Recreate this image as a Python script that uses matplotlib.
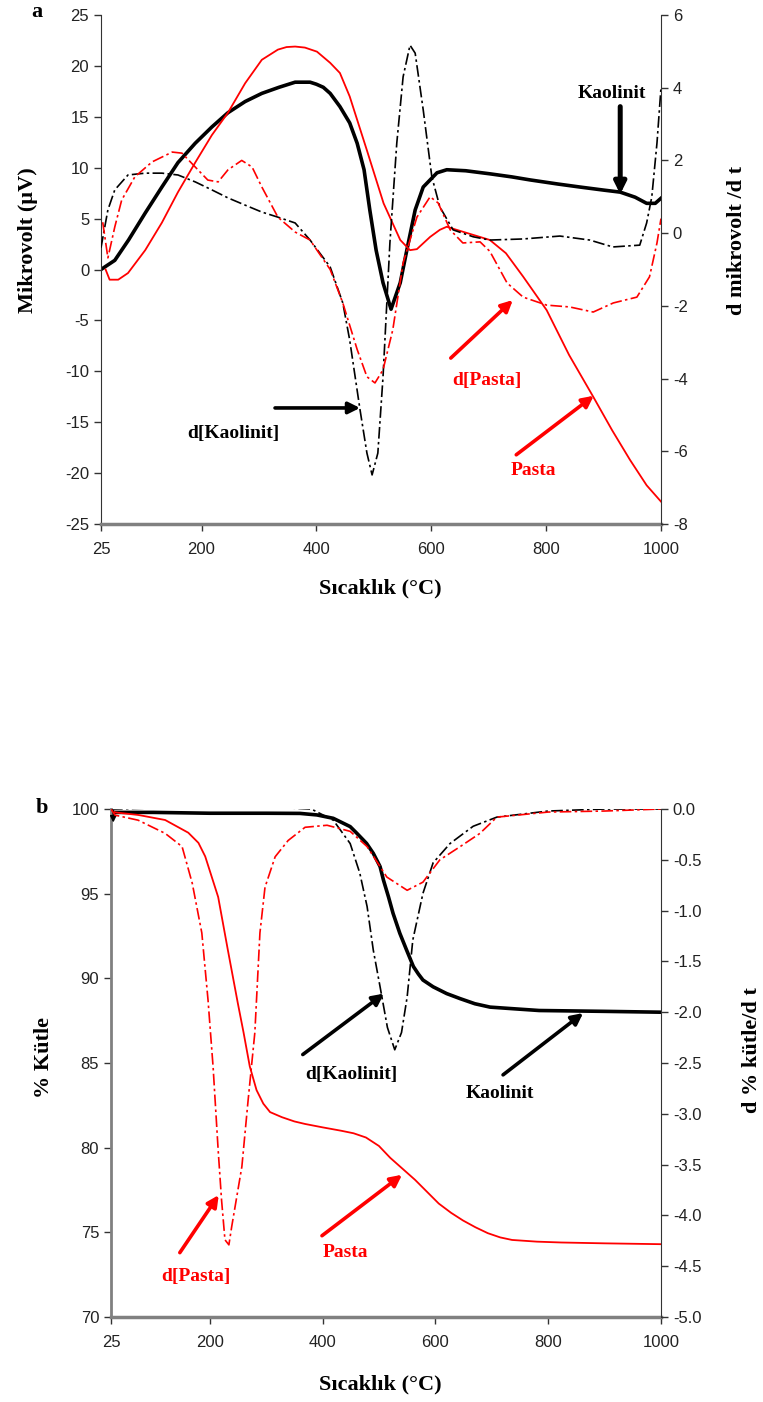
import numpy as np
import matplotlib
matplotlib.use("Agg")
import matplotlib.pyplot as plt

plt.rcParams['axes.unicode_minus'] = False

# ---- panel a : DTA ----
t_kao_a = [25, 49, 73, 102, 131, 159, 189, 218, 246, 276, 305, 335, 363, 389, 400, 412, 424, 441, 458,
           471, 483, 493, 504, 516, 530, 546, 560, 572, 586, 610, 627, 660, 702, 740, 772, 820, 859,
           900, 929, 955, 975, 990, 1000]
v_kao_a = [0.0, 0.9, 2.9, 5.55, 8.1, 10.5, 12.4, 14.0, 15.4, 16.5, 17.3, 17.9, 18.4, 18.4, 18.2, 17.9,
           17.3, 16.0, 14.4, 12.4, 9.8, 5.85, 1.9, -1.3, -3.9, -1.3, 2.6, 5.85, 8.1, 9.5, 9.8, 9.7, 9.4,
           9.1, 8.8, 8.4, 8.1, 7.8, 7.6, 7.1, 6.5, 6.5, 7.0]

t_pasta_a = [33, 40, 55, 72, 102, 131, 159, 189, 218, 246, 276, 305, 333, 348, 363, 380, 401, 424, 441,
             458, 488, 517, 546, 563, 575, 598, 615, 627, 644, 673, 702, 730, 760, 801, 840, 882, 915,
             946, 975, 1000]
v_pasta_a = [0.0, -1.0, -1.0, -0.35, 1.9, 4.6, 7.6, 10.5, 13.2, 15.4, 18.3, 20.6, 21.6, 21.85, 21.9,
             21.8, 21.4, 20.3, 19.3, 17.0, 11.7, 6.5, 2.9, 1.9, 2.0, 3.2, 3.9, 4.2, 3.9, 3.4, 2.9, 1.6,
             -0.7, -4.0, -8.4, -12.5, -15.8, -18.7, -21.2, -22.8]

t_dkao_a = [25, 37, 49, 72, 102, 131, 159, 189, 218, 246, 276, 305, 333, 363, 389, 424, 446, 458, 476,
            488, 497, 507, 516, 528, 540, 551, 563, 572, 586, 601, 615, 638, 673, 702, 760, 824, 876,
            916, 963, 975, 984, 993, 1000]
d_kao_a = [-0.4, 0.64, 1.19, 1.6, 1.65, 1.65, 1.6, 1.41, 1.19, 0.97, 0.77, 0.58, 0.44, 0.28, -0.19,
           -0.93, -1.92, -2.94, -4.86, -6.05, -6.65, -6.05, -3.96, -0.27, 2.48, 4.3, 5.17, 4.95, 3.39,
           1.55, 0.72, 0.09, -0.1, -0.19, -0.16, -0.08, -0.19, -0.38, -0.33, 0.28, 1.0, 2.48, 4.0]

t_dpasta_a = [28, 37, 49, 61, 84, 114, 149, 166, 189, 211, 229, 246, 270, 288, 305, 333, 363, 389, 424,
              446, 471, 488, 502, 516, 533, 551, 575, 598, 612, 633, 655, 685, 702, 732, 760, 801, 841,
              882, 917, 958, 980, 993, 1000]
d_pasta_a = [0.3, -0.68, 0.17, 0.91, 1.55, 1.96, 2.23, 2.2, 1.82, 1.46, 1.41, 1.74, 2.0, 1.82, 1.27,
             0.44, 0.03, -0.19, -1.0, -1.92, -3.2, -3.95, -4.12, -3.76, -2.66, -0.82, 0.44, 1.0, 0.83,
             0.09, -0.27, -0.24, -0.5, -1.37, -1.76, -1.98, -2.03, -2.17, -1.92, -1.76, -1.2, -0.27, 0.4]

# ---- panel b : TG ----
t_kao_b = [25, 100, 200, 300, 360, 390, 419, 449, 461, 478, 490, 502, 508, 517, 525, 537, 549, 561,
           570, 578, 587, 596, 608, 620, 632, 644, 670, 697, 740, 784, 900, 1000]
w_kao_b = [99.8, 99.8, 99.75, 99.75, 99.74, 99.65, 99.45, 98.96, 98.56, 97.97, 97.38, 96.6, 95.8, 94.8,
           93.84, 92.66, 91.67, 90.7, 90.25, 89.9, 89.7, 89.5, 89.3, 89.1, 88.95, 88.8, 88.5, 88.3,
           88.2, 88.1, 88.05, 88.0]

t_dkao_b = [25, 100, 200, 300, 380, 419, 449, 466, 479, 490, 502, 515, 528, 540, 550, 560, 578, 596,
            626, 667, 709, 800, 900, 1000]
d_kao_b = [0.0, 0.01, 0.03, 0.02, 0.0, -0.11, -0.34, -0.63, -0.96, -1.39, -1.75, -2.15, -2.37, -2.2,
           -1.85, -1.29, -0.83, -0.53, -0.34, -0.17, -0.08, -0.02, 0.0, 0.0]

t_pasta_b = [25, 32, 73, 121, 162, 180, 192, 215, 232, 250, 260, 271, 283, 295, 307, 328, 350, 369, 400,
             433, 455, 477, 500, 520, 542, 564, 585, 606, 628, 649, 671, 693, 715, 736, 780, 823, 900,
             1000]
w_pasta_b = [100.0, 99.8, 99.65, 99.35, 98.6, 98.0, 97.2, 94.8, 91.7, 88.5, 86.8, 84.8, 83.4, 82.6,
             82.1, 81.8, 81.55, 81.4, 81.2, 81.0, 80.85, 80.6, 80.1, 79.4, 78.75, 78.1, 77.4, 76.7,
             76.15, 75.7, 75.3, 74.95, 74.7, 74.55, 74.45, 74.4, 74.35, 74.3]

t_dpasta_b = [25, 32, 73, 121, 151, 169, 186, 197, 206, 215, 221, 227, 234, 239, 257, 268, 280, 289, 298,
              316, 339, 369, 408, 449, 479, 514, 550, 578, 608, 644, 679, 709, 800, 900, 1000]
d_pasta_b = [0.0, -0.06, -0.11, -0.24, -0.37, -0.73, -1.22, -1.88, -2.54, -3.36, -3.85, -4.24, -4.29,
             -4.11, -3.52, -2.87, -2.2, -1.22, -0.77, -0.47, -0.31, -0.18, -0.16, -0.22, -0.37, -0.67,
             -0.8, -0.72, -0.5, -0.37, -0.24, -0.08, -0.03, -0.02, 0.0]

x_ticks = [25, 200, 400, 600, 800, 1000]

W, H = 763, 1402
fig = plt.figure(figsize=(W/100, H/100), dpi=100)

tick_family = 'Liberation Sans'
lab_font = dict(family='Liberation Serif', weight='bold', size=16)
RED = '#ff0000'
dashdot = (0, (7, 2, 1.5, 2))


def fx(px):
    return px / W


def fy(py):
    return 1 - py / H


def style_axes(ax, ax2):
    for a in (ax, ax2):
        a.spines['top'].set_visible(False)
        a.tick_params(length=5, width=1, color='#333333', labelcolor='#222222')
        for lbl in a.get_xticklabels() + a.get_yticklabels():
            lbl.set_fontfamily(tick_family)
            lbl.set_fontsize(12)
    ax.spines['bottom'].set_color('#808080')
    ax.spines['bottom'].set_linewidth(2.5)
    ax2.spines['bottom'].set_visible(False)
    ax.spines['right'].set_visible(False)
    ax2.spines['left'].set_visible(False)
    ax.spines['left'].set_color('#333333')
    ax2.spines['right'].set_color('#333333')
    ax.tick_params(axis='x', pad=8)


def arrow(ax, text_xy, start, end, text, color, lw=2.6):
    ax.text(text_xy[0], text_xy[1], text, color=color, ha='center', va='center',
            family='Liberation Serif', weight='bold', size=14)
    ax.annotate('', xy=end, xytext=start,
                arrowprops=dict(arrowstyle='-|>', color=color, lw=lw, mutation_scale=17,
                                shrinkA=0, shrinkB=0))


# ---------------- panel a ----------------
ax = fig.add_axes([fx(101), fy(524), fx(560), 509 / H])
ax2 = ax.twinx()
ax.plot(t_kao_a, v_kao_a, color='black', lw=2.6)
ax.plot(t_pasta_a, v_pasta_a, color=RED, lw=1.3)
ax2.plot(t_dkao_a, d_kao_a, color='black', lw=1.2, linestyle=dashdot)
ax2.plot(t_dpasta_a, d_pasta_a, color=RED, lw=1.2, linestyle=dashdot)
ax.set_xlim(25, 1000)
ax.set_ylim(-25, 25)
ax2.set_ylim(-8, 6)
ax.set_xticks(x_ticks)
ax.set_yticks(np.arange(-25, 26, 5))
ax2.set_yticks(np.arange(-8, 7, 2))
style_axes(ax, ax2)

arrow(ax, (915, 17.3), (929, 16.0), (929, 7.4), 'Kaolinit', 'black', lw=3.6)
arrow(ax, (697, -10.9), (634, -8.7), (742, -3.0), 'd[Pasta]', RED)
arrow(ax, (777, -19.7), (748, -18.2), (883, -12.4), 'Pasta', RED)
arrow(ax, (255, -16.1), (328, -13.6), (476, -13.6), 'd[Kaolinit]', 'black')

fig.text(fx(28), fy(240), 'Mikrovolt (µV)', rotation=90, ha='center', va='center', **lab_font)
fig.text(fx(737), fy(240), 'd mikrovolt /d t', rotation=90, ha='center', va='center', **lab_font)
fig.text(fx(380), fy(588), 'Sıcaklık (°C)', ha='center', va='center', **lab_font)
fig.text(fx(37), fy(12), 'a', ha='center', va='center', family='Liberation Serif',
         weight='bold', size=16)

# ---------------- panel b ----------------
bx = fig.add_axes([fx(111), fy(1317), fx(550), 508 / H])
bx2 = bx.twinx()
bx.plot(t_kao_b, w_kao_b, color='black', lw=2.6)
bx.plot(t_pasta_b, w_pasta_b, color=RED, lw=1.3)
bx2.plot(t_dkao_b, d_kao_b, color='black', lw=1.2, linestyle=dashdot)
bx2.plot(t_dpasta_b, d_pasta_b, color=RED, lw=1.2, linestyle=dashdot)
bx.set_xlim(25, 1000)
bx.set_ylim(70, 100)
bx2.set_ylim(-5, 0)
bx.set_xticks(x_ticks)
bx.set_yticks(np.arange(70, 101, 5))
bx2.set_yticks(np.arange(-5, 0.01, 0.5))
bx2.set_yticklabels(['%.1f' % v for v in np.arange(-5, 0.01, 0.5)])
style_axes(bx, bx2)
bx.spines['left'].set_color('#808080')
bx.spines['left'].set_linewidth(2.0)

arrow(bx, (452, 84.35), (365, 85.5), (509, 89.1), 'd[Kaolinit]', 'black')
arrow(bx, (715, 83.2), (720, 84.3), (862, 87.95), 'Kaolinit', 'black')
arrow(bx, (176, 72.4), (147, 73.8), (216, 77.2), 'd[Pasta]', RED)
arrow(bx, (440, 73.8), (399, 74.8), (541, 78.4), 'Pasta', RED)
bx.annotate('', xy=(29, 99.2), xytext=(29, 99.9),
            arrowprops=dict(arrowstyle='-|>', color='black', lw=1.2, mutation_scale=9,
                            shrinkA=0, shrinkB=0))

fig.text(fx(44), fy(1057), '% Kütle', rotation=90, ha='center', va='center', **lab_font)
fig.text(fx(752), fy(1050), 'd % kütle/d t', rotation=90, ha='center', va='center', **lab_font)
fig.text(fx(380), fy(1384), 'Sıcaklık (°C)', ha='center', va='center', **lab_font)
fig.text(fx(42), fy(808), 'b', ha='center', va='center', family='Liberation Serif',
         weight='bold', size=16)

fig.savefig('out.png', dpi=100)
